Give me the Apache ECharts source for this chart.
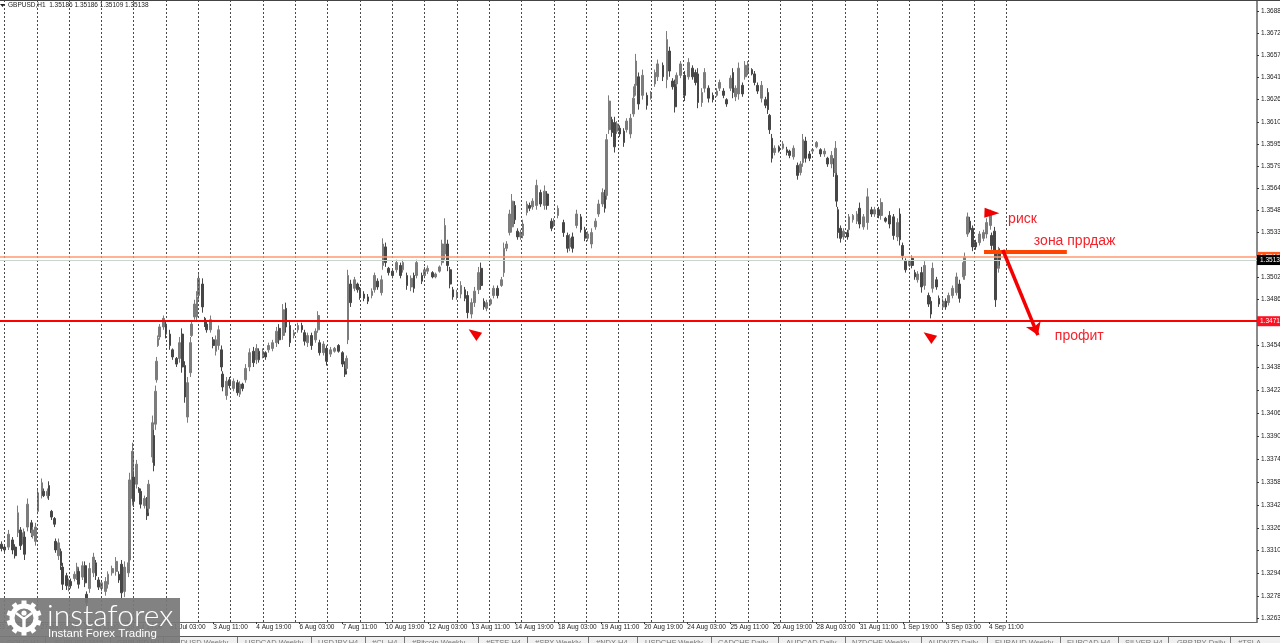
<!DOCTYPE html>
<html>
<head>
<meta charset="utf-8">
<title>GBPUSD,H1</title>
<style>html,body{margin:0;padding:0;background:#fff}#main{width:1280px;height:643px}</style>
<script src="https://cdn.jsdelivr.net/npm/echarts@6/dist/echarts.min.js"></script>
</head>
<body>
<div id="main"></div>
<script>
// hour index of each bar, prices in 1/10000
var hours = [
3,5,8,11,13,15,17,19,20,22,
25,26,28,30,33,34,37,38,40,42,
43,45,47,48,51,53,54,57,59,60,
63,65,66,68,71,73,75,77,80,82,
85,88,90,92,94,97,98,100,101,103,
105,106,109,111,112,115,116,117,118,119,
120,123,125,128,130,133,135,137,139,141,
143,144,146,148,149,152,154,155,158,160,
162,164,166,167,170,172,175,178,180,182,
184,187,190,192,194,197,199,201,204,207,
209,212,214,217,220,223,226,228,230,233,
236,238,239,242,244,247,250,253,256,258,
259,260,262,265,267,269,272,275,278,280,
282,285,286,288,290,293,296,299,301,304,
307,309,311,315,317,319,323,325,328,330,
332,334,336,338,341,344,347,349,352,354,
357,359,361,363,366,368,371,374,376,378,
380,382,384,386,388,390,393,395,397,400,
403,406,408,411,413,416,420,423,425,427,
430,433,436,438,441,444,446,449,451,452,
454,456,458,460,462,465,467,470,472,473,
474,476,479,482,485,488,490,494,497,499,
501,503,504,507,510,513,516,518,520,523,
525,528,531,534,536,539,541,544,546,548,
550,553,555,557,560,562,564,567,570,572,
573,575,577,580,583,586,588,591,594,596,
598,600,603,605,608,611,614,616,619,621,
622,623,624,626,628,631,632,635,638,640,
643,646,649,651,654,656,659,662,665,668,
670,672,674,677,679,681,683,686,688,691,
693,694,697,699,702,704,706,709,712,714,
717,718,720,722,724,726,729,732,734,737,
738,740,741,743,744
];
var opens = [
13315,13313,13313,13318,13313,13323,13325,13315,13320,13327,
13330,13321,13317,13338,13350,13352,13349,13356,13338,13333,
13317,13307,13310,13299,13293,13285,13289,13291,13292,13296,
13292,13300,13280,13284,13295,13302,13290,13284,13282,13287,
13295,13296,13294,13301,13282,13295,13304,13347,13362,13357,
13354,13352,13342,13346,13340,13376,13391,13399,13430,13454,
13460,13467,13469,13462,13451,13445,13445,13462,13440,13404,
13435,13461,13474,13474,13489,13497,13473,13469,13465,13458,
13450,13454,13451,13434,13419,13430,13424,13428,13420,13427,
13430,13439,13450,13444,13450,13447,13449,13451,13452,13456,
13466,13461,13480,13468,13461,13465,13468,13463,13456,13461,
13458,13465,13456,13449,13452,13448,13450,13454,13449,13441,
13438,13458,13497,13494,13497,13493,13490,13488,13489,13493,
13499,13491,13510,13523,13508,13506,13507,13510,13507,13503,
13495,13503,13503,13503,13503,13506,13505,13502,13506,13512,
13518,13525,13507,13493,13488,13490,13493,13489,13476,13484,
13493,13508,13485,13480,13483,13489,13494,13496,13505,13522,
13533,13537,13552,13534,13530,13531,13547,13552,13551,13552,
13561,13552,13560,13541,13539,13545,13540,13531,13523,13530,
13538,13544,13535,13529,13525,13537,13546,13553,13560,13559,
13605,13612,13610,13604,13606,13604,13605,13602,13616,13629,
13636,13642,13629,13629,13627,13637,13642,13650,13640,13660,
13639,13637,13637,13643,13643,13642,13648,13645,13644,13624,
13634,13634,13629,13629,13634,13632,13626,13634,13645,13628,
13630,13636,13642,13645,13647,13644,13636,13627,13626,13631,
13615,13599,13589,13593,13592,13591,13590,13586,13580,13575,
13582,13597,13588,13590,13593,13591,13588,13585,13581,13583,
13575,13573,13549,13536,13530,13533,13535,13542,13541,13550,
13537,13540,13549,13546,13549,13545,13543,13545,13544,13530,
13546,13524,13513,13510,13515,13505,13500,13505,13496,13489,
13485,13494,13500,13487,13481,13485,13484,13489,13491,13497,
13502,13503,13532,13541,13536,13526,13526,13529,13532,13538,
13531,13534,13518,13508,13519
];
var closes = [
13312,13311,13322,13311,13307,13337,13314,13323,13308,13343,
13323,13325,13327,13351,13358,13349,13352,13349,13334,13329,
13311,13316,13300,13287,13286,13289,13286,13294,13299,13287,
13300,13288,13274,13298,13306,13293,13285,13288,13289,13294,
13298,13303,13290,13281,13299,13302,13360,13380,13345,13371,
13352,13343,13347,13335,13357,13400,13370,13422,13443,13459,
13467,13473,13462,13454,13446,13441,13456,13439,13418,13428,
13456,13469,13483,13488,13501,13481,13469,13465,13472,13454,
13458,13465,13439,13425,13429,13426,13429,13421,13427,13424,
13438,13449,13442,13452,13444,13450,13446,13454,13456,13464,
13458,13479,13467,13456,13463,13468,13465,13457,13461,13454,
13464,13475,13449,13455,13443,13451,13452,13450,13441,13434,
13445,13503,13484,13500,13493,13488,13487,13485,13492,13503,
13495,13500,13525,13512,13505,13503,13512,13503,13512,13496,
13501,13494,13512,13499,13507,13508,13502,13504,13509,13525,
13538,13510,13497,13488,13491,13496,13487,13477,13484,13492,
13505,13496,13481,13484,13486,13494,13489,13500,13522,13525,
13546,13555,13542,13530,13533,13539,13553,13550,13555,13566,
13553,13562,13552,13536,13541,13550,13533,13522,13529,13522,
13546,13535,13529,13532,13533,13541,13553,13561,13550,13598,
13625,13603,13593,13609,13602,13596,13611,13613,13627,13635,
13653,13623,13643,13622,13630,13645,13651,13642,13668,13646,
13635,13621,13643,13651,13629,13652,13642,13638,13624,13631,
13645,13627,13626,13632,13638,13629,13623,13641,13631,13634,
13648,13630,13650,13651,13644,13638,13632,13636,13622,13619,
13605,13585,13592,13590,13595,13589,13587,13592,13573,13581,
13598,13585,13585,13591,13596,13588,13590,13581,13587,13575,
13592,13555,13533,13529,13534,13530,13544,13545,13546,13539,
13544,13558,13546,13549,13545,13554,13541,13539,13531,13540,
13528,13517,13507,13513,13510,13502,13504,13495,13510,13483,
13476,13508,13495,13483,13485,13481,13489,13494,13502,13487,
13512,13516,13544,13535,13523,13523,13532,13533,13540,13546,
13524,13520,13486,13520,13514
];
var lows = [
13310,13309,13311,13308,13305,13320,13311,13312,13304,13324,
13320,13319,13314,13336,13347,13348,13347,13346,13332,13327,
13309,13304,13297,13283,13283,13282,13284,13289,13290,13284,
13290,13285,13271,13281,13292,13290,13283,13282,13279,13284,
13293,13293,13288,13277,13278,13292,13302,13342,13341,13354,
13351,13340,13340,13332,13337,13372,13366,13395,13428,13453,
13458,13465,13459,13451,13444,13439,13442,13435,13414,13400,
13432,13460,13472,13471,13486,13477,13467,13463,13463,13452,
13447,13451,13436,13422,13416,13424,13422,13419,13418,13422,
13428,13436,13439,13441,13442,13445,13444,13449,13450,13453,
13455,13458,13463,13453,13459,13463,13463,13454,13453,13451,
13456,13463,13447,13447,13440,13446,13449,13449,13439,13432,
13436,13455,13481,13492,13491,13486,13485,13483,13487,13491,
13493,13489,13507,13509,13503,13501,13505,13501,13505,13493,
13492,13491,13501,13497,13501,13504,13501,13501,13505,13510,
13514,13506,13494,13486,13486,13487,13485,13473,13473,13481,
13490,13493,13479,13478,13482,13487,13487,13495,13502,13520,
13531,13533,13539,13528,13528,13529,13545,13548,13549,13549,
13551,13549,13549,13534,13537,13543,13530,13519,13520,13519,
13536,13533,13527,13527,13522,13535,13544,13551,13547,13556,
13602,13600,13589,13602,13600,13593,13603,13599,13614,13628,
13633,13619,13626,13619,13626,13635,13639,13639,13634,13642,
13633,13617,13635,13641,13625,13640,13640,13636,13620,13621,
13631,13624,13624,13628,13632,13627,13621,13632,13627,13625,
13626,13628,13640,13643,13643,13636,13630,13624,13620,13616,
13602,13582,13587,13589,13591,13587,13585,13584,13570,13573,
13579,13582,13583,13589,13592,13586,13586,13579,13578,13572,
13572,13551,13529,13526,13528,13528,13533,13540,13539,13536,
13535,13535,13544,13544,13543,13542,13540,13536,13528,13527,
13524,13514,13505,13509,13508,13500,13498,13491,13493,13481,
13473,13491,13493,13481,13479,13479,13482,13487,13489,13484,
13500,13500,13530,13533,13520,13521,13524,13527,13529,13535,
13521,13517,13481,13505,13510
];
var highs = [
13317,13315,13325,13320,13315,13342,13327,13326,13324,13347,
13332,13327,13330,13354,13361,13354,13354,13359,13339,13334,
13319,13319,13312,13302,13295,13291,13291,13296,13302,13298,
13303,13303,13282,13302,13309,13304,13292,13290,13292,13296,
13300,13306,13296,13304,13303,13305,13365,13386,13366,13374,
13355,13354,13349,13348,13360,13405,13395,13426,13446,13461,
13469,13475,13471,13465,13452,13446,13460,13466,13443,13432,
13460,13471,13486,13492,13505,13501,13474,13471,13475,13460,
13461,13468,13454,13436,13432,13432,13431,13430,13429,13428,
13441,13452,13453,13455,13452,13452,13450,13456,13458,13467,
13469,13483,13484,13471,13465,13470,13470,13465,13463,13463,
13466,13478,13458,13457,13454,13453,13453,13455,13450,13443,
13447,13507,13500,13502,13498,13495,13492,13490,13494,13505,
13501,13503,13529,13526,13509,13507,13514,13512,13514,13505,
13503,13505,13514,13505,13509,13510,13506,13505,13510,13528,
13543,13528,13509,13495,13493,13499,13495,13492,13487,13495,
13509,13512,13487,13486,13487,13496,13496,13502,13526,13527,
13549,13560,13555,13536,13535,13542,13555,13554,13557,13570,
13563,13566,13562,13543,13543,13552,13542,13533,13532,13533,
13549,13546,13537,13534,13536,13543,13556,13564,13563,13602,
13629,13614,13614,13611,13608,13606,13613,13616,13630,13637,
13658,13645,13647,13631,13632,13647,13654,13652,13674,13663,
13641,13640,13645,13653,13646,13655,13650,13647,13648,13634,
13648,13636,13631,13634,13640,13634,13627,13643,13648,13636,
13652,13638,13653,13653,13648,13646,13638,13639,13628,13634,
13616,13602,13594,13594,13597,13593,13591,13594,13582,13583,
13602,13600,13590,13592,13597,13592,13592,13586,13590,13585,
13597,13575,13551,13538,13536,13535,13546,13546,13548,13554,
13546,13564,13551,13551,13551,13557,13544,13548,13546,13543,
13550,13526,13515,13514,13517,13507,13506,13509,13513,13491,
13488,13512,13502,13489,13487,13487,13491,13496,13505,13500,
13514,13519,13547,13544,13538,13528,13534,13535,13543,13549,
13533,13537,13522,13523,13522
];

// price scale labels
var yTicks = [1.3688,1.36725,1.3657,1.36415,1.3626,1.36105,1.3595,1.35795,1.3564,1.35485,1.3533,1.35175,1.3502,1.34865,1.3471,1.34545,1.34385,1.34225,1.34065,1.33905,1.33745,1.33585,1.33425,1.33265,1.33105,1.32945,1.32785,1.3263];
// time scale labels, one every 32 bars
var xLabels = ['23 Jul 19:00','27 Jul 03:00','28 Jul 11:00','29 Jul 19:00','31 Jul 03:00','3 Aug 11:00','4 Aug 19:00','6 Aug 03:00','7 Aug 11:00','10 Aug 19:00','12 Aug 03:00','13 Aug 11:00','14 Aug 19:00','18 Aug 03:00','19 Aug 11:00','20 Aug 19:00','24 Aug 03:00','25 Aug 11:00','26 Aug 19:00','28 Aug 03:00','31 Aug 11:00','1 Sep 19:00','3 Sep 03:00','4 Sep 11:00'];
var xTicks = xLabels.map(function (l, i) { return i * 32; });
// day separators
var dayLines = [5,29,53,77,101,125,149,173,197,221,245,269,293,317,341,365,389,413,437,461,485,509,533,557,581,605,629,653,677,701,725,749];

// levels
var levelRed = 1.3471;
var levelOrange = 1.3516;
var levelBid = 1.35138;

var tabNames = ['GOLD,H1','EURUSD,M15','GBPUSD,H1','AUDUSD Weekly','USDCAD Weekly','USDJPY,H4','#CL,H4','#Bitcoin Weekly','#FTSE,H4','#SPX Weekly','#NDX,H4','USDCHF Weekly','CADCHF Daily','AUDCAD Daily','NZDCHF Weekly','AUDNZD Daily','EURAUD Weekly','EURCAD,H4','SILVER,H4','GBPJPY Daily','#TSLA...'];
var tabLeft = [7,55,117,170,245,318,372,412,486,535,596,645,718,786,852,928,995,1067,1125,1177,1238];
var tabSeps = [45,110,163,237,311,365,404,478,527,588,637,711,778,845,921,987,1060,1118,1168,1230];

var FONT = '"Liberation Sans", Arial, sans-serif';

var barData = hours.map(function (h, i) {
    return [h, opens[i] / 10000, closes[i] / 10000, lows[i] / 10000, highs[i] / 10000];
});

function levelLine(price, color, width, tagColor) {
    return {
        yAxis: price,
        lineStyle: { color: color, width: width, type: 'solid' },
        label: {
            show: true, position: 'end', distance: 0, formatter: price.toFixed(5),
            color: '#fff', backgroundColor: tagColor, padding: [2, 4, 1, 3],
            fontFamily: FONT, fontSize: 6.5
        }
    };
}

function textMark(text, h, price) {
    return {
        coord: [h, price],
        symbol: 'circle',
        symbolSize: 0,
        label: { show: true, position: 'right', distance: 0, formatter: text, color: '#f5222a', fontFamily: FONT, fontSize: 14 }
    };
}

var graphics = [
    { type: 'rect', z: 50, silent: true, shape: { x: 0, y: 0, width: 1280, height: 1 }, style: { fill: '#444' } },
    { type: 'polygon', z: 50, silent: true, shape: { points: [[0, 4], [5, 4], [2.5, 7]] }, style: { fill: '#222' } },
    { type: 'text', z: 50, silent: true, x: 8, y: 1.5, style: { text: 'GBPUSD,H1  1.35186 1.35186 1.35109 1.35138', fill: '#222', font: '6.5px ' + FONT } },
    // terminal tab strip
    { type: 'rect', z: 50, silent: true, shape: { x: 0, y: 636, width: 1280, height: 7 }, style: { fill: '#f0f0f0' } },
    { type: 'rect', z: 50, silent: true, shape: { x: 0, y: 636, width: 1280, height: 1 }, style: { fill: '#555' } }
];
tabNames.forEach(function (name, i) {
    graphics.push({ type: 'text', z: 51, silent: true, x: tabLeft[i], y: 638.5, style: { text: name, fill: i === 2 ? '#333' : '#777', font: '7.5px ' + FONT } });
});
tabSeps.forEach(function (x) {
    graphics.push({ type: 'rect', z: 51, silent: true, shape: { x: x, y: 637, width: 1, height: 6 }, style: { fill: '#777' } });
});

// logo block
graphics.push({ type: 'rect', z: 60, silent: true, shape: { x: 0, y: 598, width: 180, height: 45 }, style: { fill: 'rgba(120,120,120,0.93)' } });
var gearX = 24, gearY = 618;
for (var t = 0; t < 10; t++) {
    graphics.push({
        type: 'rect', z: 61, silent: true, x: gearX, y: gearY, rotation: t * Math.PI / 5,
        shape: { x: -2.5, y: -17.5, width: 5, height: 5 }, style: { fill: '#fff' }
    });
}
graphics.push(
    { type: 'ring', z: 61, silent: true, shape: { cx: gearX, cy: gearY, r: 14.5, r0: 9.5 }, style: { fill: '#fff' } },
    { type: 'circle', z: 61, silent: true, shape: { cx: gearX, cy: gearY - 5, r: 2.6 }, style: { fill: '#fff' } },
    { type: 'rect', z: 61, silent: true, shape: { x: gearX - 1.7, y: gearY - 1, width: 3.4, height: 11 }, style: { fill: '#fff' } },
    { type: 'polyline', z: 61, silent: true, shape: { points: [[gearX - 8, gearY - 5], [gearX, gearY + 1], [gearX + 8, gearY - 5]] }, style: { stroke: '#fff', lineWidth: 2.4, fill: 'none' } },
    { type: 'text', z: 61, silent: true, x: 47, y: 601, style: { text: 'instaforex', fill: '#fff', font: '300 30px Lato, "Open Sans", sans-serif' } },
    { type: 'text', z: 61, silent: true, x: 48, y: 628, style: { text: 'Instant Forex Trading', fill: '#fff', font: '11.5px ' + FONT } }
);

var myChart = echarts.init(document.getElementById('main'), null, { renderer: 'canvas' });
var option = {
    animation: false,
    backgroundColor: '#fff',
    grid: { left: -2.3, right: 23, top: 1, bottom: 21, outerBoundsMode: 'none' },
    xAxis: {
        type: 'value',
        min: 0,
        max: 935,
        splitLine: { show: false },
        axisLine: { onZero: false, lineStyle: { color: '#666', width: 1 } },
        axisTick: { customValues: xTicks, length: 2, lineStyle: { color: '#333' } },
        axisLabel: {
            customValues: xTicks,
            align: 'left',
            margin: 2,
            color: '#222',
            fontFamily: FONT,
            fontSize: 6.5,
            formatter: function (v) { return xLabels[v / 32]; }
        }
    },
    yAxis: {
        type: 'value',
        position: 'right',
        min: 1.32606,
        max: 1.3695,
        scale: true,
        splitLine: { show: false },
        axisLine: { show: true, onZero: false, lineStyle: { color: '#8a8a8a', width: 2 } },
        axisTick: { show: true, customValues: yTicks, length: 2, lineStyle: { color: '#333' } },
        axisLabel: {
            customValues: yTicks,
            margin: 4,
            color: '#222',
            fontFamily: FONT,
            fontSize: 6.5,
            formatter: function (v) { return v.toFixed(5); }
        }
    },
    graphic: graphics,
    series: [
        {
            type: 'candlestick',
            name: 'GBPUSD,H1',
            data: barData,
            encode: { x: 0, y: [1, 2, 3, 4] },
            barWidth: 2.2,
            itemStyle: { color: '#7c7c7c', color0: '#464646', borderColor: '#7c7c7c', borderColor0: '#464646', borderWidth: 1 },
            markLine: {
                silent: true,
                symbol: 'none',
                precision: 5,
                animation: false,
                label: { show: false },
                data: dayLines.map(function (h) {
                    return { xAxis: h, lineStyle: { color: '#4a4a4a', width: 1, type: [2, 2] } };
                }).concat([
                    levelLine(levelOrange, '#ff9a70', 1.5, '#ff5a1e'),
                    levelLine(levelBid, '#ccd4d0', 1, '#000'),
                    levelLine(levelRed, '#ff0000', 2, '#ff1020'),
                    // sell zone bar and the profit arrow
                    [
                        { coord: [732.3, 1.35197], lineStyle: { color: '#ff4500', width: 4, type: 'solid' } },
                        { coord: [793.8, 1.35197] }
                    ],
                    [
                        { coord: [746.3, 1.35208], symbol: 'none', lineStyle: { color: '#f40000', width: 3.5, type: 'solid' } },
                        { coord: [772.3, 1.34613], symbol: 'arrow', symbolSize: 12 }
                    ]
                ])
            },
            markPoint: {
                silent: true,
                animation: false,
                data: [
                    { coord: [353.6, 1.34627], symbol: 'triangle', symbolSize: [10, 13], symbolRotate: 55, itemStyle: { color: '#f00000' }, label: { show: false } },
                    { coord: [691.4, 1.34606], symbol: 'triangle', symbolSize: [10, 13], symbolRotate: 55, itemStyle: { color: '#f00000' }, label: { show: false } },
                    { coord: [738.2, 1.35467], symbol: 'triangle', symbolSize: [10, 15], symbolRotate: -92, itemStyle: { color: '#f00000' }, label: { show: false } },
                    textMark('риск', 750.2, 1.35425),
                    textMark('зона пррдаж', 769.3, 1.35271),
                    textMark('профит', 784.9, 1.34606)
                ]
            }
        }
    ]
};

option && myChart.setOption(option);
</script>
</body>
</html>
